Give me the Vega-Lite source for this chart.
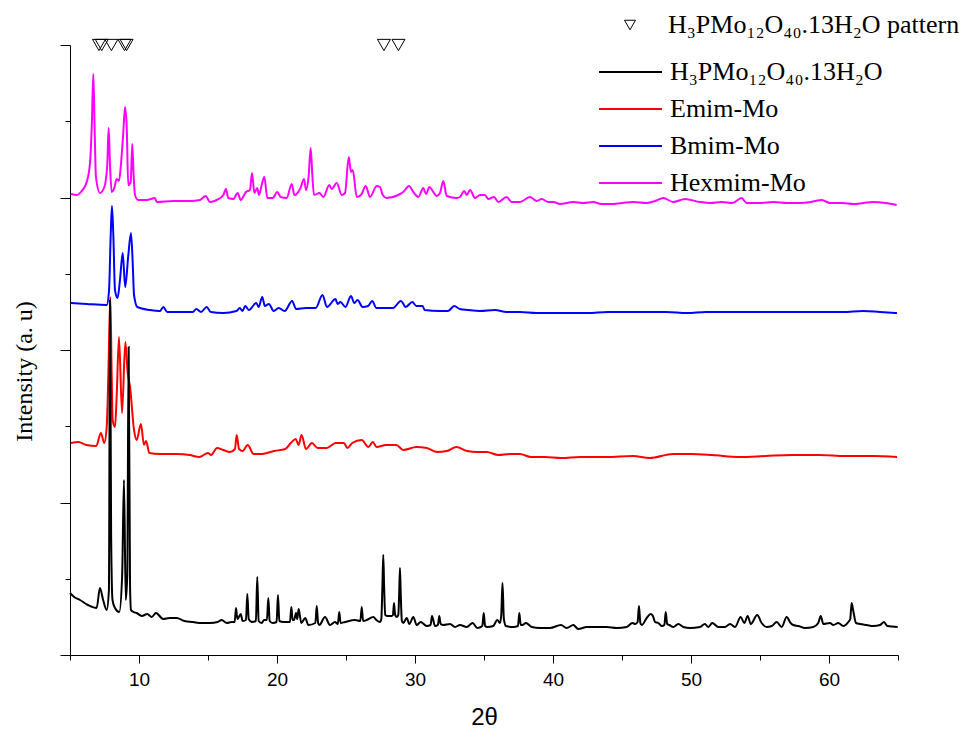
{
  "$schema": "https://vega.github.io/schema/vega-lite/v6.json",
  "width": 828,
  "height": 610,
  "autosize": {"type": "none"},
  "padding": {"left": 70, "top": 45, "right": 75, "bottom": 78},
  "background": "white",
  "config": {
    "view": {"stroke": null},
    "axis": {"grid": false, "domainColor": "black", "tickColor": "black", "labelColor": "black", "titleColor": "black", "domainWidth": 1, "tickWidth": 1}
  },
  "datasets": {
    "ref": [
      {"t": 7.1, "i": 610, "p": "H₃PMo₁₂O₄₀.13H₂O pattern"},
      {"t": 7.3, "i": 610, "p": "H₃PMo₁₂O₄₀.13H₂O pattern"},
      {"t": 8.0, "i": 610, "p": "H₃PMo₁₂O₄₀.13H₂O pattern"},
      {"t": 8.95, "i": 610, "p": "H₃PMo₁₂O₄₀.13H₂O pattern"},
      {"t": 9.1, "i": 610, "p": "H₃PMo₁₂O₄₀.13H₂O pattern"},
      {"t": 27.75, "i": 610, "p": "H₃PMo₁₂O₄₀.13H₂O pattern"},
      {"t": 28.8, "i": 610, "p": "H₃PMo₁₂O₄₀.13H₂O pattern"}
    ],
    "scans": [
      {"s":"Hexmim-Mo","t":5.07,"i":461},{"s":"Hexmim-Mo","t":5.49,"i":460},{"s":"Hexmim-Mo","t":5.85,"i":464},{"s":"Hexmim-Mo","t":6.21,"i":473},{"s":"Hexmim-Mo","t":6.45,"i":492},{"s":"Hexmim-Mo","t":6.58,"i":530},{"s":"Hexmim-Mo","t":6.69,"i":581},{"s":"Hexmim-Mo","t":6.78,"i":530},{"s":"Hexmim-Mo","t":6.88,"i":478},{"s":"Hexmim-Mo","t":7.17,"i":462},{"s":"Hexmim-Mo","t":7.49,"i":468},{"s":"Hexmim-Mo","t":7.7,"i":490},{"s":"Hexmim-Mo","t":7.8,"i":527},{"s":"Hexmim-Mo","t":7.9,"i":490},{"s":"Hexmim-Mo","t":8.02,"i":463},{"s":"Hexmim-Mo","t":8.21,"i":467},{"s":"Hexmim-Mo","t":8.38,"i":476},{"s":"Hexmim-Mo","t":8.55,"i":474},{"s":"Hexmim-Mo","t":8.7,"i":492},{"s":"Hexmim-Mo","t":8.85,"i":520},{"s":"Hexmim-Mo","t":8.99,"i":548},{"s":"Hexmim-Mo","t":9.11,"i":528},{"s":"Hexmim-Mo","t":9.22,"i":470},{"s":"Hexmim-Mo","t":9.4,"i":473},{"s":"Hexmim-Mo","t":9.51,"i":511},{"s":"Hexmim-Mo","t":9.61,"i":480},{"s":"Hexmim-Mo","t":9.71,"i":460},{"s":"Hexmim-Mo","t":9.95,"i":455},{"s":"Hexmim-Mo","t":10.56,"i":455},{"s":"Hexmim-Mo","t":11.16,"i":457},{"s":"Hexmim-Mo","t":11.28,"i":453},{"s":"Hexmim-Mo","t":12.49,"i":454},{"s":"Hexmim-Mo","t":13.7,"i":454},{"s":"Hexmim-Mo","t":14.42,"i":455},{"s":"Hexmim-Mo","t":14.83,"i":459},{"s":"Hexmim-Mo","t":15.14,"i":453},{"s":"Hexmim-Mo","t":15.63,"i":455},{"s":"Hexmim-Mo","t":16.11,"i":460},{"s":"Hexmim-Mo","t":16.3,"i":466},{"s":"Hexmim-Mo","t":16.47,"i":457},{"s":"Hexmim-Mo","t":16.83,"i":456},{"s":"Hexmim-Mo","t":17.15,"i":462},{"s":"Hexmim-Mo","t":17.37,"i":455},{"s":"Hexmim-Mo","t":17.75,"i":463},{"s":"Hexmim-Mo","t":18.04,"i":465},{"s":"Hexmim-Mo","t":18.19,"i":482},{"s":"Hexmim-Mo","t":18.36,"i":462},{"s":"Hexmim-Mo","t":18.57,"i":467},{"s":"Hexmim-Mo","t":18.7,"i":460},{"s":"Hexmim-Mo","t":18.89,"i":470},{"s":"Hexmim-Mo","t":19.08,"i":478},{"s":"Hexmim-Mo","t":19.3,"i":457},{"s":"Hexmim-Mo","t":19.69,"i":457},{"s":"Hexmim-Mo","t":20.02,"i":463},{"s":"Hexmim-Mo","t":20.27,"i":458},{"s":"Hexmim-Mo","t":20.7,"i":457},{"s":"Hexmim-Mo","t":21.07,"i":471},{"s":"Hexmim-Mo","t":21.26,"i":460},{"s":"Hexmim-Mo","t":21.67,"i":466},{"s":"Hexmim-Mo","t":21.96,"i":476},{"s":"Hexmim-Mo","t":22.1,"i":465},{"s":"Hexmim-Mo","t":22.3,"i":480},{"s":"Hexmim-Mo","t":22.44,"i":507},{"s":"Hexmim-Mo","t":22.56,"i":480},{"s":"Hexmim-Mo","t":22.68,"i":460},{"s":"Hexmim-Mo","t":23.07,"i":462},{"s":"Hexmim-Mo","t":23.36,"i":458},{"s":"Hexmim-Mo","t":23.79,"i":470},{"s":"Hexmim-Mo","t":23.96,"i":466},{"s":"Hexmim-Mo","t":24.33,"i":472},{"s":"Hexmim-Mo","t":24.69,"i":460},{"s":"Hexmim-Mo","t":24.93,"i":462},{"s":"Hexmim-Mo","t":25.2,"i":498},{"s":"Hexmim-Mo","t":25.36,"i":483},{"s":"Hexmim-Mo","t":25.49,"i":485},{"s":"Hexmim-Mo","t":25.78,"i":458},{"s":"Hexmim-Mo","t":26.09,"i":460},{"s":"Hexmim-Mo","t":26.43,"i":469},{"s":"Hexmim-Mo","t":26.74,"i":458},{"s":"Hexmim-Mo","t":27.22,"i":469},{"s":"Hexmim-Mo","t":27.46,"i":468},{"s":"Hexmim-Mo","t":27.66,"i":460},{"s":"Hexmim-Mo","t":27.95,"i":457},{"s":"Hexmim-Mo","t":28.79,"i":460},{"s":"Hexmim-Mo","t":29.15,"i":463},{"s":"Hexmim-Mo","t":29.57,"i":469},{"s":"Hexmim-Mo","t":29.88,"i":463},{"s":"Hexmim-Mo","t":30.24,"i":458},{"s":"Hexmim-Mo","t":30.6,"i":467},{"s":"Hexmim-Mo","t":30.8,"i":461},{"s":"Hexmim-Mo","t":31.04,"i":468},{"s":"Hexmim-Mo","t":31.33,"i":463},{"s":"Hexmim-Mo","t":31.57,"i":459},{"s":"Hexmim-Mo","t":31.81,"i":462},{"s":"Hexmim-Mo","t":32.05,"i":474},{"s":"Hexmim-Mo","t":32.3,"i":459},{"s":"Hexmim-Mo","t":33.02,"i":457},{"s":"Hexmim-Mo","t":33.26,"i":458},{"s":"Hexmim-Mo","t":33.57,"i":464},{"s":"Hexmim-Mo","t":33.75,"i":460},{"s":"Hexmim-Mo","t":33.99,"i":465},{"s":"Hexmim-Mo","t":34.35,"i":457},{"s":"Hexmim-Mo","t":34.71,"i":460},{"s":"Hexmim-Mo","t":35.07,"i":460},{"s":"Hexmim-Mo","t":35.31,"i":456},{"s":"Hexmim-Mo","t":35.72,"i":458},{"s":"Hexmim-Mo","t":36.04,"i":453},{"s":"Hexmim-Mo","t":36.64,"i":458},{"s":"Hexmim-Mo","t":37.0,"i":453},{"s":"Hexmim-Mo","t":37.61,"i":453},{"s":"Hexmim-Mo","t":38.33,"i":458},{"s":"Hexmim-Mo","t":38.82,"i":454},{"s":"Hexmim-Mo","t":39.18,"i":456},{"s":"Hexmim-Mo","t":39.66,"i":453},{"s":"Hexmim-Mo","t":40.02,"i":453},{"s":"Hexmim-Mo","t":40.51,"i":451},{"s":"Hexmim-Mo","t":41.47,"i":453},{"s":"Hexmim-Mo","t":42.2,"i":452},{"s":"Hexmim-Mo","t":42.92,"i":453},{"s":"Hexmim-Mo","t":43.5,"i":451},{"s":"Hexmim-Mo","t":44.13,"i":451},{"s":"Hexmim-Mo","t":45.0,"i":452},{"s":"Hexmim-Mo","t":45.82,"i":453},{"s":"Hexmim-Mo","t":46.79,"i":452},{"s":"Hexmim-Mo","t":47.4,"i":454},{"s":"Hexmim-Mo","t":47.99,"i":457},{"s":"Hexmim-Mo","t":48.72,"i":453},{"s":"Hexmim-Mo","t":49.57,"i":456},{"s":"Hexmim-Mo","t":50.65,"i":453},{"s":"Hexmim-Mo","t":51.4,"i":452},{"s":"Hexmim-Mo","t":52.22,"i":453},{"s":"Hexmim-Mo","t":53.0,"i":452},{"s":"Hexmim-Mo","t":53.67,"i":457},{"s":"Hexmim-Mo","t":54.03,"i":452},{"s":"Hexmim-Mo","t":55.0,"i":452},{"s":"Hexmim-Mo","t":55.96,"i":453},{"s":"Hexmim-Mo","t":57.0,"i":452},{"s":"Hexmim-Mo","t":57.9,"i":452},{"s":"Hexmim-Mo","t":58.7,"i":453},{"s":"Hexmim-Mo","t":59.47,"i":455},{"s":"Hexmim-Mo","t":60.07,"i":452},{"s":"Hexmim-Mo","t":61.0,"i":452},{"s":"Hexmim-Mo","t":61.76,"i":451},{"s":"Hexmim-Mo","t":62.5,"i":452},{"s":"Hexmim-Mo","t":63.21,"i":453},{"s":"Hexmim-Mo","t":64.1,"i":452},{"s":"Hexmim-Mo","t":64.9,"i":450},
      {"s":"Bmim-Mo","t":5.07,"i":352},{"s":"Bmim-Mo","t":6.2,"i":351},{"s":"Bmim-Mo","t":7.66,"i":350},{"s":"Bmim-Mo","t":7.83,"i":365},{"s":"Bmim-Mo","t":7.95,"i":420},{"s":"Bmim-Mo","t":8.04,"i":449},{"s":"Bmim-Mo","t":8.14,"i":420},{"s":"Bmim-Mo","t":8.26,"i":365},{"s":"Bmim-Mo","t":8.45,"i":357},{"s":"Bmim-Mo","t":8.62,"i":375},{"s":"Bmim-Mo","t":8.82,"i":402},{"s":"Bmim-Mo","t":9.0,"i":368},{"s":"Bmim-Mo","t":9.22,"i":399},{"s":"Bmim-Mo","t":9.42,"i":422},{"s":"Bmim-Mo","t":9.55,"i":390},{"s":"Bmim-Mo","t":9.64,"i":360},{"s":"Bmim-Mo","t":9.88,"i":348},{"s":"Bmim-Mo","t":10.8,"i":345},{"s":"Bmim-Mo","t":11.52,"i":344},{"s":"Bmim-Mo","t":11.76,"i":348},{"s":"Bmim-Mo","t":12.05,"i":343},{"s":"Bmim-Mo","t":12.97,"i":343},{"s":"Bmim-Mo","t":13.9,"i":343},{"s":"Bmim-Mo","t":14.15,"i":346},{"s":"Bmim-Mo","t":14.5,"i":343},{"s":"Bmim-Mo","t":14.9,"i":348},{"s":"Bmim-Mo","t":15.2,"i":343},{"s":"Bmim-Mo","t":16.1,"i":342},{"s":"Bmim-Mo","t":17.06,"i":344},{"s":"Bmim-Mo","t":17.3,"i":347},{"s":"Bmim-Mo","t":17.5,"i":344},{"s":"Bmim-Mo","t":17.7,"i":349},{"s":"Bmim-Mo","t":17.96,"i":345},{"s":"Bmim-Mo","t":18.5,"i":352},{"s":"Bmim-Mo","t":18.67,"i":348},{"s":"Bmim-Mo","t":18.93,"i":358},{"s":"Bmim-Mo","t":19.12,"i":349},{"s":"Bmim-Mo","t":19.41,"i":351},{"s":"Bmim-Mo","t":19.76,"i":344},{"s":"Bmim-Mo","t":20.12,"i":347},{"s":"Bmim-Mo","t":20.55,"i":344},{"s":"Bmim-Mo","t":21.1,"i":354},{"s":"Bmim-Mo","t":21.38,"i":346},{"s":"Bmim-Mo","t":22.1,"i":347},{"s":"Bmim-Mo","t":22.8,"i":347},{"s":"Bmim-Mo","t":23.3,"i":360},{"s":"Bmim-Mo","t":23.62,"i":348},{"s":"Bmim-Mo","t":24.24,"i":356},{"s":"Bmim-Mo","t":24.39,"i":351},{"s":"Bmim-Mo","t":24.6,"i":353},{"s":"Bmim-Mo","t":24.96,"i":348},{"s":"Bmim-Mo","t":25.36,"i":359},{"s":"Bmim-Mo","t":25.6,"i":352},{"s":"Bmim-Mo","t":25.84,"i":355},{"s":"Bmim-Mo","t":26.2,"i":348},{"s":"Bmim-Mo","t":26.6,"i":349},{"s":"Bmim-Mo","t":26.9,"i":354},{"s":"Bmim-Mo","t":27.2,"i":347},{"s":"Bmim-Mo","t":27.8,"i":347},{"s":"Bmim-Mo","t":28.4,"i":347},{"s":"Bmim-Mo","t":28.98,"i":354},{"s":"Bmim-Mo","t":29.33,"i":348},{"s":"Bmim-Mo","t":29.8,"i":353},{"s":"Bmim-Mo","t":30.1,"i":349},{"s":"Bmim-Mo","t":30.55,"i":349},{"s":"Bmim-Mo","t":30.7,"i":345},{"s":"Bmim-Mo","t":31.8,"i":344},{"s":"Bmim-Mo","t":32.4,"i":344},{"s":"Bmim-Mo","t":32.84,"i":349},{"s":"Bmim-Mo","t":33.24,"i":346},{"s":"Bmim-Mo","t":33.84,"i":345},{"s":"Bmim-Mo","t":34.7,"i":344},{"s":"Bmim-Mo","t":35.8,"i":345},{"s":"Bmim-Mo","t":36.63,"i":343},{"s":"Bmim-Mo","t":37.6,"i":343},{"s":"Bmim-Mo","t":38.8,"i":342},{"s":"Bmim-Mo","t":40.9,"i":342},{"s":"Bmim-Mo","t":42.5,"i":342},{"s":"Bmim-Mo","t":44.0,"i":343},{"s":"Bmim-Mo","t":45.26,"i":343},{"s":"Bmim-Mo","t":46.8,"i":343},{"s":"Bmim-Mo","t":48.2,"i":343},{"s":"Bmim-Mo","t":49.7,"i":342},{"s":"Bmim-Mo","t":51.1,"i":343},{"s":"Bmim-Mo","t":53.5,"i":343},{"s":"Bmim-Mo","t":55.96,"i":343},{"s":"Bmim-Mo","t":57.8,"i":343},{"s":"Bmim-Mo","t":59.6,"i":343},{"s":"Bmim-Mo","t":61.0,"i":343},{"s":"Bmim-Mo","t":62.5,"i":344},{"s":"Bmim-Mo","t":63.7,"i":343},{"s":"Bmim-Mo","t":64.93,"i":342},
      {"s":"Emim-Mo","t":5.07,"i":212},{"s":"Emim-Mo","t":5.6,"i":213},{"s":"Emim-Mo","t":6.2,"i":210},{"s":"Emim-Mo","t":6.9,"i":209},{"s":"Emim-Mo","t":7.24,"i":222},{"s":"Emim-Mo","t":7.48,"i":212},{"s":"Emim-Mo","t":7.66,"i":228},{"s":"Emim-Mo","t":7.77,"i":275},{"s":"Emim-Mo","t":7.92,"i":358},{"s":"Emim-Mo","t":8.02,"i":280},{"s":"Emim-Mo","t":8.09,"i":235},{"s":"Emim-Mo","t":8.26,"i":228},{"s":"Emim-Mo","t":8.38,"i":258},{"s":"Emim-Mo","t":8.55,"i":318},{"s":"Emim-Mo","t":8.77,"i":242},{"s":"Emim-Mo","t":9.01,"i":313},{"s":"Emim-Mo","t":9.18,"i":282},{"s":"Emim-Mo","t":9.35,"i":268},{"s":"Emim-Mo","t":9.64,"i":225},{"s":"Emim-Mo","t":9.83,"i":215},{"s":"Emim-Mo","t":10.14,"i":231},{"s":"Emim-Mo","t":10.36,"i":210},{"s":"Emim-Mo","t":10.51,"i":214},{"s":"Emim-Mo","t":10.75,"i":202},{"s":"Emim-Mo","t":11.5,"i":201},{"s":"Emim-Mo","t":12.2,"i":201},{"s":"Emim-Mo","t":12.73,"i":201},{"s":"Emim-Mo","t":13.67,"i":200},{"s":"Emim-Mo","t":14.37,"i":198},{"s":"Emim-Mo","t":15.0,"i":202},{"s":"Emim-Mo","t":15.22,"i":200},{"s":"Emim-Mo","t":15.66,"i":207},{"s":"Emim-Mo","t":16.1,"i":205},{"s":"Emim-Mo","t":16.6,"i":203},{"s":"Emim-Mo","t":16.95,"i":206},{"s":"Emim-Mo","t":17.08,"i":220},{"s":"Emim-Mo","t":17.25,"i":206},{"s":"Emim-Mo","t":17.5,"i":204},{"s":"Emim-Mo","t":17.88,"i":210},{"s":"Emim-Mo","t":18.3,"i":201},{"s":"Emim-Mo","t":18.9,"i":201},{"s":"Emim-Mo","t":19.8,"i":204},{"s":"Emim-Mo","t":20.6,"i":206},{"s":"Emim-Mo","t":21.0,"i":212},{"s":"Emim-Mo","t":21.36,"i":216},{"s":"Emim-Mo","t":21.56,"i":210},{"s":"Emim-Mo","t":21.78,"i":220},{"s":"Emim-Mo","t":22.1,"i":206},{"s":"Emim-Mo","t":22.53,"i":212},{"s":"Emim-Mo","t":22.94,"i":207},{"s":"Emim-Mo","t":23.6,"i":207},{"s":"Emim-Mo","t":24.25,"i":212},{"s":"Emim-Mo","t":24.85,"i":212},{"s":"Emim-Mo","t":25.1,"i":207},{"s":"Emim-Mo","t":25.45,"i":212},{"s":"Emim-Mo","t":26.14,"i":215},{"s":"Emim-Mo","t":26.62,"i":208},{"s":"Emim-Mo","t":26.94,"i":213},{"s":"Emim-Mo","t":27.22,"i":208},{"s":"Emim-Mo","t":27.9,"i":210},{"s":"Emim-Mo","t":28.65,"i":210},{"s":"Emim-Mo","t":29.15,"i":205},{"s":"Emim-Mo","t":30.1,"i":208},{"s":"Emim-Mo","t":30.85,"i":207},{"s":"Emim-Mo","t":31.6,"i":203},{"s":"Emim-Mo","t":32.3,"i":204},{"s":"Emim-Mo","t":33.0,"i":208},{"s":"Emim-Mo","t":33.77,"i":204},{"s":"Emim-Mo","t":34.5,"i":203},{"s":"Emim-Mo","t":35.2,"i":203},{"s":"Emim-Mo","t":36.04,"i":200},{"s":"Emim-Mo","t":36.9,"i":201},{"s":"Emim-Mo","t":37.6,"i":201},{"s":"Emim-Mo","t":38.4,"i":198},{"s":"Emim-Mo","t":39.4,"i":198},{"s":"Emim-Mo","t":40.58,"i":197},{"s":"Emim-Mo","t":42.0,"i":198},{"s":"Emim-Mo","t":43.9,"i":198},{"s":"Emim-Mo","t":45.8,"i":199},{"s":"Emim-Mo","t":47.0,"i":197},{"s":"Emim-Mo","t":48.7,"i":201},{"s":"Emim-Mo","t":50.0,"i":201},{"s":"Emim-Mo","t":51.56,"i":200},{"s":"Emim-Mo","t":53.5,"i":198},{"s":"Emim-Mo","t":55.4,"i":199},{"s":"Emim-Mo","t":57.3,"i":200},{"s":"Emim-Mo","t":59.25,"i":200},{"s":"Emim-Mo","t":61.2,"i":199},{"s":"Emim-Mo","t":63.2,"i":199},{"s":"Emim-Mo","t":64.93,"i":198},
      {"s":"H₃PMo₁₂O₄₀.13H₂O","t":5.0,"i":62},{"s":"H₃PMo₁₂O₄₀.13H₂O","t":5.3,"i":58},{"s":"H₃PMo₁₂O₄₀.13H₂O","t":5.72,"i":55},{"s":"H₃PMo₁₂O₄₀.13H₂O","t":6.3,"i":50},{"s":"H₃PMo₁₂O₄₀.13H₂O","t":6.93,"i":47},{"s":"H₃PMo₁₂O₄₀.13H₂O","t":7.17,"i":67},{"s":"H₃PMo₁₂O₄₀.13H₂O","t":7.4,"i":55},{"s":"H₃PMo₁₂O₄₀.13H₂O","t":7.66,"i":45},{"s":"H₃PMo₁₂O₄₀.13H₂O","t":7.82,"i":65},{"s":"H₃PMo₁₂O₄₀.13H₂O","t":7.9,"i":355},{"s":"H₃PMo₁₂O₄₀.13H₂O","t":7.98,"i":120},{"s":"H₃PMo₁₂O₄₀.13H₂O","t":8.08,"i":55},{"s":"H₃PMo₁₂O₄₀.13H₂O","t":8.26,"i":47},{"s":"H₃PMo₁₂O₄₀.13H₂O","t":8.57,"i":43},{"s":"H₃PMo₁₂O₄₀.13H₂O","t":8.78,"i":80},{"s":"H₃PMo₁₂O₄₀.13H₂O","t":8.91,"i":175},{"s":"H₃PMo₁₂O₄₀.13H₂O","t":9.04,"i":55},{"s":"H₃PMo₁₂O₄₀.13H₂O","t":9.15,"i":80},{"s":"H₃PMo₁₂O₄₀.13H₂O","t":9.25,"i":308},{"s":"H₃PMo₁₂O₄₀.13H₂O","t":9.35,"i":70},{"s":"H₃PMo₁₂O₄₀.13H₂O","t":9.42,"i":45},{"s":"H₃PMo₁₂O₄₀.13H₂O","t":9.6,"i":43},{"s":"H₃PMo₁₂O₄₀.13H₂O","t":9.83,"i":42},{"s":"H₃PMo₁₂O₄₀.13H₂O","t":10.2,"i":39},{"s":"H₃PMo₁₂O₄₀.13H₂O","t":10.6,"i":41},{"s":"H₃PMo₁₂O₄₀.13H₂O","t":10.92,"i":38},{"s":"H₃PMo₁₂O₄₀.13H₂O","t":11.23,"i":42},{"s":"H₃PMo₁₂O₄₀.13H₂O","t":11.76,"i":36},{"s":"H₃PMo₁₂O₄₀.13H₂O","t":12.2,"i":37},{"s":"H₃PMo₁₂O₄₀.13H₂O","t":12.73,"i":37},{"s":"H₃PMo₁₂O₄₀.13H₂O","t":13.3,"i":34},{"s":"H₃PMo₁₂O₄₀.13H₂O","t":13.91,"i":33},{"s":"H₃PMo₁₂O₄₀.13H₂O","t":14.5,"i":32},{"s":"H₃PMo₁₂O₄₀.13H₂O","t":15.14,"i":32},{"s":"H₃PMo₁₂O₄₀.13H₂O","t":15.7,"i":33},{"s":"H₃PMo₁₂O₄₀.13H₂O","t":15.99,"i":35},{"s":"H₃PMo₁₂O₄₀.13H₂O","t":16.36,"i":32},{"s":"H₃PMo₁₂O₄₀.13H₂O","t":16.72,"i":33},{"s":"H₃PMo₁₂O₄₀.13H₂O","t":16.93,"i":33},{"s":"H₃PMo₁₂O₄₀.13H₂O","t":17.03,"i":47},{"s":"H₃PMo₁₂O₄₀.13H₂O","t":17.13,"i":36},{"s":"H₃PMo₁₂O₄₀.13H₂O","t":17.2,"i":37},{"s":"H₃PMo₁₂O₄₀.13H₂O","t":17.37,"i":41},{"s":"H₃PMo₁₂O₄₀.13H₂O","t":17.51,"i":34},{"s":"H₃PMo₁₂O₄₀.13H₂O","t":17.75,"i":35},{"s":"H₃PMo₁₂O₄₀.13H₂O","t":17.85,"i":61},{"s":"H₃PMo₁₂O₄₀.13H₂O","t":17.95,"i":36},{"s":"H₃PMo₁₂O₄₀.13H₂O","t":18.17,"i":33},{"s":"H₃PMo₁₂O₄₀.13H₂O","t":18.47,"i":34},{"s":"H₃PMo₁₂O₄₀.13H₂O","t":18.57,"i":78},{"s":"H₃PMo₁₂O₄₀.13H₂O","t":18.67,"i":34},{"s":"H₃PMo₁₂O₄₀.13H₂O","t":18.89,"i":32},{"s":"H₃PMo₁₂O₄₀.13H₂O","t":19.06,"i":35},{"s":"H₃PMo₁₂O₄₀.13H₂O","t":19.27,"i":35},{"s":"H₃PMo₁₂O₄₀.13H₂O","t":19.37,"i":57},{"s":"H₃PMo₁₂O₄₀.13H₂O","t":19.47,"i":34},{"s":"H₃PMo₁₂O₄₀.13H₂O","t":19.69,"i":32},{"s":"H₃PMo₁₂O₄₀.13H₂O","t":19.97,"i":33},{"s":"H₃PMo₁₂O₄₀.13H₂O","t":20.07,"i":60},{"s":"H₃PMo₁₂O₄₀.13H₂O","t":20.17,"i":34},{"s":"H₃PMo₁₂O₄₀.13H₂O","t":20.46,"i":33},{"s":"H₃PMo₁₂O₄₀.13H₂O","t":20.75,"i":33},{"s":"H₃PMo₁₂O₄₀.13H₂O","t":20.94,"i":33},{"s":"H₃PMo₁₂O₄₀.13H₂O","t":21.04,"i":48},{"s":"H₃PMo₁₂O₄₀.13H₂O","t":21.13,"i":35},{"s":"H₃PMo₁₂O₄₀.13H₂O","t":21.23,"i":35},{"s":"H₃PMo₁₂O₄₀.13H₂O","t":21.38,"i":42},{"s":"H₃PMo₁₂O₄₀.13H₂O","t":21.47,"i":36},{"s":"H₃PMo₁₂O₄₀.13H₂O","t":21.57,"i":46},{"s":"H₃PMo₁₂O₄₀.13H₂O","t":21.76,"i":32},{"s":"H₃PMo₁₂O₄₀.13H₂O","t":22.05,"i":37},{"s":"H₃PMo₁₂O₄₀.13H₂O","t":22.27,"i":30},{"s":"H₃PMo₁₂O₄₀.13H₂O","t":22.78,"i":32},{"s":"H₃PMo₁₂O₄₀.13H₂O","t":22.88,"i":49},{"s":"H₃PMo₁₂O₄₀.13H₂O","t":22.98,"i":32},{"s":"H₃PMo₁₂O₄₀.13H₂O","t":23.07,"i":30},{"s":"H₃PMo₁₂O₄₀.13H₂O","t":23.48,"i":38},{"s":"H₃PMo₁₂O₄₀.13H₂O","t":23.84,"i":30},{"s":"H₃PMo₁₂O₄₀.13H₂O","t":24.2,"i":33},{"s":"H₃PMo₁₂O₄₀.13H₂O","t":24.41,"i":31},{"s":"H₃PMo₁₂O₄₀.13H₂O","t":24.51,"i":43},{"s":"H₃PMo₁₂O₄₀.13H₂O","t":24.61,"i":32},{"s":"H₃PMo₁₂O₄₀.13H₂O","t":24.93,"i":33},{"s":"H₃PMo₁₂O₄₀.13H₂O","t":25.65,"i":35},{"s":"H₃PMo₁₂O₄₀.13H₂O","t":26.04,"i":34},{"s":"H₃PMo₁₂O₄₀.13H₂O","t":26.14,"i":48},{"s":"H₃PMo₁₂O₄₀.13H₂O","t":26.24,"i":34},{"s":"H₃PMo₁₂O₄₀.13H₂O","t":26.5,"i":35},{"s":"H₃PMo₁₂O₄₀.13H₂O","t":26.98,"i":38},{"s":"H₃PMo₁₂O₄₀.13H₂O","t":27.2,"i":35},{"s":"H₃PMo₁₂O₄₀.13H₂O","t":27.46,"i":33},{"s":"H₃PMo₁₂O₄₀.13H₂O","t":27.56,"i":36},{"s":"H₃PMo₁₂O₄₀.13H₂O","t":27.64,"i":70},{"s":"H₃PMo₁₂O₄₀.13H₂O","t":27.7,"i":100},{"s":"H₃PMo₁₂O₄₀.13H₂O","t":27.76,"i":70},{"s":"H₃PMo₁₂O₄₀.13H₂O","t":27.84,"i":40},{"s":"H₃PMo₁₂O₄₀.13H₂O","t":28.02,"i":39},{"s":"H₃PMo₁₂O₄₀.13H₂O","t":28.31,"i":39},{"s":"H₃PMo₁₂O₄₀.13H₂O","t":28.4,"i":40},{"s":"H₃PMo₁₂O₄₀.13H₂O","t":28.48,"i":52},{"s":"H₃PMo₁₂O₄₀.13H₂O","t":28.56,"i":40},{"s":"H₃PMo₁₂O₄₀.13H₂O","t":28.7,"i":38},{"s":"H₃PMo₁₂O₄₀.13H₂O","t":28.79,"i":40},{"s":"H₃PMo₁₂O₄₀.13H₂O","t":28.85,"i":60},{"s":"H₃PMo₁₂O₄₀.13H₂O","t":28.91,"i":87},{"s":"H₃PMo₁₂O₄₀.13H₂O","t":28.97,"i":60},{"s":"H₃PMo₁₂O₄₀.13H₂O","t":29.05,"i":34},{"s":"H₃PMo₁₂O₄₀.13H₂O","t":29.15,"i":32},{"s":"H₃PMo₁₂O₄₀.13H₂O","t":29.4,"i":37},{"s":"H₃PMo₁₂O₄₀.13H₂O","t":29.59,"i":31},{"s":"H₃PMo₁₂O₄₀.13H₂O","t":29.88,"i":38},{"s":"H₃PMo₁₂O₄₀.13H₂O","t":30.12,"i":30},{"s":"H₃PMo₁₂O₄₀.13H₂O","t":30.41,"i":33},{"s":"H₃PMo₁₂O₄₀.13H₂O","t":30.85,"i":29},{"s":"H₃PMo₁₂O₄₀.13H₂O","t":31.13,"i":30},{"s":"H₃PMo₁₂O₄₀.13H₂O","t":31.23,"i":39},{"s":"H₃PMo₁₂O₄₀.13H₂O","t":31.45,"i":29},{"s":"H₃PMo₁₂O₄₀.13H₂O","t":31.66,"i":30},{"s":"H₃PMo₁₂O₄₀.13H₂O","t":31.76,"i":39},{"s":"H₃PMo₁₂O₄₀.13H₂O","t":31.86,"i":31},{"s":"H₃PMo₁₂O₄₀.13H₂O","t":32.05,"i":30},{"s":"H₃PMo₁₂O₄₀.13H₂O","t":32.54,"i":31},{"s":"H₃PMo₁₂O₄₀.13H₂O","t":32.9,"i":28},{"s":"H₃PMo₁₂O₄₀.13H₂O","t":33.26,"i":30},{"s":"H₃PMo₁₂O₄₀.13H₂O","t":33.75,"i":28},{"s":"H₃PMo₁₂O₄₀.13H₂O","t":34.18,"i":32},{"s":"H₃PMo₁₂O₄₀.13H₂O","t":34.51,"i":27},{"s":"H₃PMo₁₂O₄₀.13H₂O","t":34.88,"i":29},{"s":"H₃PMo₁₂O₄₀.13H₂O","t":34.98,"i":42},{"s":"H₃PMo₁₂O₄₀.13H₂O","t":35.08,"i":29},{"s":"H₃PMo₁₂O₄₀.13H₂O","t":35.24,"i":28},{"s":"H₃PMo₁₂O₄₀.13H₂O","t":35.67,"i":29},{"s":"H₃PMo₁₂O₄₀.13H₂O","t":35.96,"i":35},{"s":"H₃PMo₁₂O₄₀.13H₂O","t":36.16,"i":32},{"s":"H₃PMo₁₂O₄₀.13H₂O","t":36.25,"i":40},{"s":"H₃PMo₁₂O₄₀.13H₂O","t":36.34,"i":72},{"s":"H₃PMo₁₂O₄₀.13H₂O","t":36.44,"i":36},{"s":"H₃PMo₁₂O₄₀.13H₂O","t":36.59,"i":29},{"s":"H₃PMo₁₂O₄₀.13H₂O","t":37.12,"i":28},{"s":"H₃PMo₁₂O₄₀.13H₂O","t":37.46,"i":29},{"s":"H₃PMo₁₂O₄₀.13H₂O","t":37.56,"i":42},{"s":"H₃PMo₁₂O₄₀.13H₂O","t":37.66,"i":30},{"s":"H₃PMo₁₂O₄₀.13H₂O","t":37.78,"i":30},{"s":"H₃PMo₁₂O₄₀.13H₂O","t":38.04,"i":32},{"s":"H₃PMo₁₂O₄₀.13H₂O","t":38.46,"i":28},{"s":"H₃PMo₁₂O₄₀.13H₂O","t":39.06,"i":27},{"s":"H₃PMo₁₂O₄₀.13H₂O","t":39.78,"i":27},{"s":"H₃PMo₁₂O₄₀.13H₂O","t":40.58,"i":30},{"s":"H₃PMo₁₂O₄₀.13H₂O","t":40.99,"i":27},{"s":"H₃PMo₁₂O₄₀.13H₂O","t":41.47,"i":30},{"s":"H₃PMo₁₂O₄₀.13H₂O","t":41.83,"i":26},{"s":"H₃PMo₁₂O₄₀.13H₂O","t":42.44,"i":28},{"s":"H₃PMo₁₂O₄₀.13H₂O","t":43.17,"i":28},{"s":"H₃PMo₁₂O₄₀.13H₂O","t":43.89,"i":28},{"s":"H₃PMo₁₂O₄₀.13H₂O","t":44.62,"i":27},{"s":"H₃PMo₁₂O₄₀.13H₂O","t":45.34,"i":28},{"s":"H₃PMo₁₂O₄₀.13H₂O","t":45.75,"i":32},{"s":"H₃PMo₁₂O₄₀.13H₂O","t":45.96,"i":31},{"s":"H₃PMo₁₂O₄₀.13H₂O","t":46.13,"i":33},{"s":"H₃PMo₁₂O₄₀.13H₂O","t":46.23,"i":49},{"s":"H₃PMo₁₂O₄₀.13H₂O","t":46.33,"i":32},{"s":"H₃PMo₁₂O₄₀.13H₂O","t":46.43,"i":30},{"s":"H₃PMo₁₂O₄₀.13H₂O","t":46.79,"i":37},{"s":"H₃PMo₁₂O₄₀.13H₂O","t":47.08,"i":41},{"s":"H₃PMo₁₂O₄₀.13H₂O","t":47.27,"i":38},{"s":"H₃PMo₁₂O₄₀.13H₂O","t":47.39,"i":33},{"s":"H₃PMo₁₂O₄₀.13H₂O","t":47.63,"i":32},{"s":"H₃PMo₁₂O₄₀.13H₂O","t":47.88,"i":29},{"s":"H₃PMo₁₂O₄₀.13H₂O","t":48.07,"i":30},{"s":"H₃PMo₁₂O₄₀.13H₂O","t":48.17,"i":43},{"s":"H₃PMo₁₂O₄₀.13H₂O","t":48.27,"i":31},{"s":"H₃PMo₁₂O₄₀.13H₂O","t":48.43,"i":30},{"s":"H₃PMo₁₂O₄₀.13H₂O","t":48.72,"i":28},{"s":"H₃PMo₁₂O₄₀.13H₂O","t":49.08,"i":31},{"s":"H₃PMo₁₂O₄₀.13H₂O","t":49.44,"i":28},{"s":"H₃PMo₁₂O₄₀.13H₂O","t":49.93,"i":27},{"s":"H₃PMo₁₂O₄₀.13H₂O","t":50.65,"i":28},{"s":"H₃PMo₁₂O₄₀.13H₂O","t":51.01,"i":31},{"s":"H₃PMo₁₂O₄₀.13H₂O","t":51.25,"i":28},{"s":"H₃PMo₁₂O₄₀.13H₂O","t":51.54,"i":32},{"s":"H₃PMo₁₂O₄₀.13H₂O","t":51.98,"i":28},{"s":"H₃PMo₁₂O₄₀.13H₂O","t":52.46,"i":28},{"s":"H₃PMo₁₂O₄₀.13H₂O","t":52.83,"i":31},{"s":"H₃PMo₁₂O₄₀.13H₂O","t":53.19,"i":28},{"s":"H₃PMo₁₂O₄₀.13H₂O","t":53.6,"i":38},{"s":"H₃PMo₁₂O₄₀.13H₂O","t":53.86,"i":32},{"s":"H₃PMo₁₂O₄₀.13H₂O","t":54.11,"i":39},{"s":"H₃PMo₁₂O₄₀.13H₂O","t":54.33,"i":31},{"s":"H₃PMo₁₂O₄₀.13H₂O","t":54.8,"i":40},{"s":"H₃PMo₁₂O₄₀.13H₂O","t":55.12,"i":32},{"s":"H₃PMo₁₂O₄₀.13H₂O","t":55.49,"i":28},{"s":"H₃PMo₁₂O₄₀.13H₂O","t":55.85,"i":29},{"s":"H₃PMo₁₂O₄₀.13H₂O","t":56.21,"i":33},{"s":"H₃PMo₁₂O₄₀.13H₂O","t":56.57,"i":28},{"s":"H₃PMo₁₂O₄₀.13H₂O","t":56.93,"i":38},{"s":"H₃PMo₁₂O₄₀.13H₂O","t":57.22,"i":32},{"s":"H₃PMo₁₂O₄₀.13H₂O","t":57.41,"i":30},{"s":"H₃PMo₁₂O₄₀.13H₂O","t":57.78,"i":29},{"s":"H₃PMo₁₂O₄₀.13H₂O","t":58.26,"i":27},{"s":"H₃PMo₁₂O₄₀.13H₂O","t":58.86,"i":28},{"s":"H₃PMo₁₂O₄₀.13H₂O","t":59.22,"i":32},{"s":"H₃PMo₁₂O₄₀.13H₂O","t":59.4,"i":39},{"s":"H₃PMo₁₂O₄₀.13H₂O","t":59.59,"i":31},{"s":"H₃PMo₁₂O₄₀.13H₂O","t":60.07,"i":32},{"s":"H₃PMo₁₂O₄₀.13H₂O","t":60.31,"i":30},{"s":"H₃PMo₁₂O₄₀.13H₂O","t":60.67,"i":32},{"s":"H₃PMo₁₂O₄₀.13H₂O","t":61.04,"i":29},{"s":"H₃PMo₁₂O₄₀.13H₂O","t":61.4,"i":33},{"s":"H₃PMo₁₂O₄₀.13H₂O","t":61.54,"i":36},{"s":"H₃PMo₁₂O₄₀.13H₂O","t":61.64,"i":52},{"s":"H₃PMo₁₂O₄₀.13H₂O","t":61.76,"i":44},{"s":"H₃PMo₁₂O₄₀.13H₂O","t":61.96,"i":32},{"s":"H₃PMo₁₂O₄₀.13H₂O","t":62.25,"i":31},{"s":"H₃PMo₁₂O₄₀.13H₂O","t":62.73,"i":30},{"s":"H₃PMo₁₂O₄₀.13H₂O","t":63.21,"i":29},{"s":"H₃PMo₁₂O₄₀.13H₂O","t":63.7,"i":30},{"s":"H₃PMo₁₂O₄₀.13H₂O","t":63.99,"i":33},{"s":"H₃PMo₁₂O₄₀.13H₂O","t":64.22,"i":29},{"s":"H₃PMo₁₂O₄₀.13H₂O","t":64.98,"i":28}
    ]
  },
  "layer": [
    {
      "data": {"name": "scans"},
      "mark": {"type": "line", "strokeWidth": 2, "interpolate": "monotone"},
      "encoding": {
        "x": {
          "field": "t", "type": "quantitative",
          "scale": {"domain": [5, 65], "nice": false, "zero": false},
          "axis": {"values": [10, 20, 30, 40, 50, 60], "tickSize": 8, "labelFont": "Liberation Sans", "labelFontSize": 19, "labelPadding": 7, "title": "2θ", "titleFont": "Liberation Sans", "titleFontSize": 24, "titleFontWeight": "normal", "titlePadding": 16}
        },
        "y": {
          "field": "i", "type": "quantitative",
          "scale": {"domain": [0, 610], "nice": false, "zero": false},
          "axis": {"values": [0, 152.5, 305, 457.5, 610], "tickSize": 10, "labels": false, "title": "Intensity (a. u)", "titleFont": "Liberation Serif", "titleFontSize": 24, "titleFontWeight": "normal", "titlePadding": 23, "titleY": 326}
        },
        "color": {
          "field": "s", "type": "nominal",
          "scale": {"domain": ["H₃PMo₁₂O₄₀.13H₂O", "Emim-Mo", "Bmim-Mo", "Hexmim-Mo"], "range": ["#000000", "#ff0000", "#0000ff", "#ff00ff"]},
          "legend": {"orient": "none", "legendX": 528, "legendY": 14, "title": null, "padding": 0, "symbolType": "stroke", "symbolSize": 3969, "symbolStrokeWidth": 2, "clipHeight": 26, "rowPadding": 11, "labelFont": "Liberation Serif", "labelFontSize": 26, "labelColor": "black", "labelOffset": 7, "labelLimit": 0}
        }
      }
    },
    {
      "data": {"name": "ref"},
      "mark": {"type": "point", "filled": false, "color": "black", "size": 169, "strokeWidth": 1, "opacity": 1},
      "encoding": {
        "x": {"field": "t", "type": "quantitative", "axis": {"orient": "bottom", "values": [5, 15, 25, 35, 45, 55, 65], "tickSize": 5, "labels": false, "domain": false, "title": null}},
        "y": {"field": "i", "type": "quantitative", "axis": {"orient": "left", "values": [76.25, 228.75, 381.25, 533.75], "tickSize": 5, "labels": false, "domain": false, "title": null}},
        "shape": {
          "field": "p", "type": "nominal",
          "scale": {"range": ["triangle-down"]},
          "legend": {"orient": "none", "legendX": 547, "legendY": -33, "title": null, "padding": 0, "symbolSize": 121, "symbolStrokeWidth": 1, "symbolStrokeColor": "black", "symbolFillColor": "transparent", "clipHeight": 26, "labelFont": "Liberation Serif", "labelFontSize": 26, "labelColor": "black", "labelOffset": 25, "labelLimit": 0}
        }
      }
    }
  ],
  "resolve": {"axis": {"x": "independent", "y": "independent"}}
}
